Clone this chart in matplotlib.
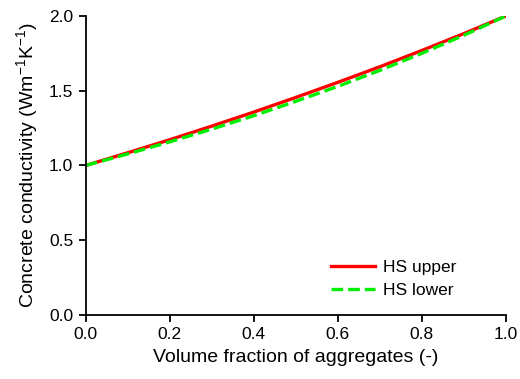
import numpy as np
import matplotlib
matplotlib.use("Agg")
import matplotlib.pyplot as plt

plt.rcParams['font.family'] = ['Liberation Sans', 'DejaVu Sans']

# volume fraction of aggregates and the two bounds
frac = [0.0, 0.1, 0.2, 0.3, 0.4, 0.5, 0.6, 0.7, 0.8, 0.9, 1.0]
hs_upper = [1.000, 1.085, 1.172, 1.263, 1.357, 1.455, 1.556, 1.660, 1.769, 1.882, 2.000]
hs_lower = [1.000, 1.077, 1.158, 1.243, 1.333, 1.429, 1.529, 1.636, 1.750, 1.871, 2.000]

xticks = [0.0, 0.2, 0.4, 0.6, 0.8, 1.0]
yticks = [0.0, 0.5, 1.0, 1.5, 2.0]

fig = plt.figure(figsize=(5.2, 3.79), dpi=100)
ax = fig.add_axes([0.165, 0.169, 0.808, 0.789])

ax.plot(frac, hs_upper, color="#ff0000", lw=2.4, label="HS upper")
ax.plot(frac, hs_lower, color="#00ee00", lw=2.4, ls=(0, (3.5, 1.5)), label="HS lower")

ax.set_xlim(0, 1)
ax.set_ylim(0, 2)
ax.set_xticks(xticks)
ax.set_yticks(yticks)
ax.set_xticklabels([f"{v:.1f}" for v in xticks])
ax.set_yticklabels([f"{v:.1f}" for v in yticks])
ax.spines['top'].set_visible(False)
ax.spines['right'].set_visible(False)
for s in ['left', 'bottom']:
    ax.spines[s].set_linewidth(1.3)
ax.tick_params(direction='out', length=5, width=1.3, labelsize=12.5, pad=4)

ax.set_xlabel("Volume fraction of aggregates (-)", fontsize=14, labelpad=5)
ax.set_ylabel("Concrete conductivity (Wm$^{\\mathregular{-1}}$K$^{\\mathregular{-1}}$)",
              fontsize=14, labelpad=6)

ax.legend(loc="lower right", frameon=False, fontsize=12.5, handlelength=2.5,
          handletextpad=0.5, bbox_to_anchor=(0.92, 0.005), labelspacing=0.45)

fig.savefig("out.png", dpi=100)
